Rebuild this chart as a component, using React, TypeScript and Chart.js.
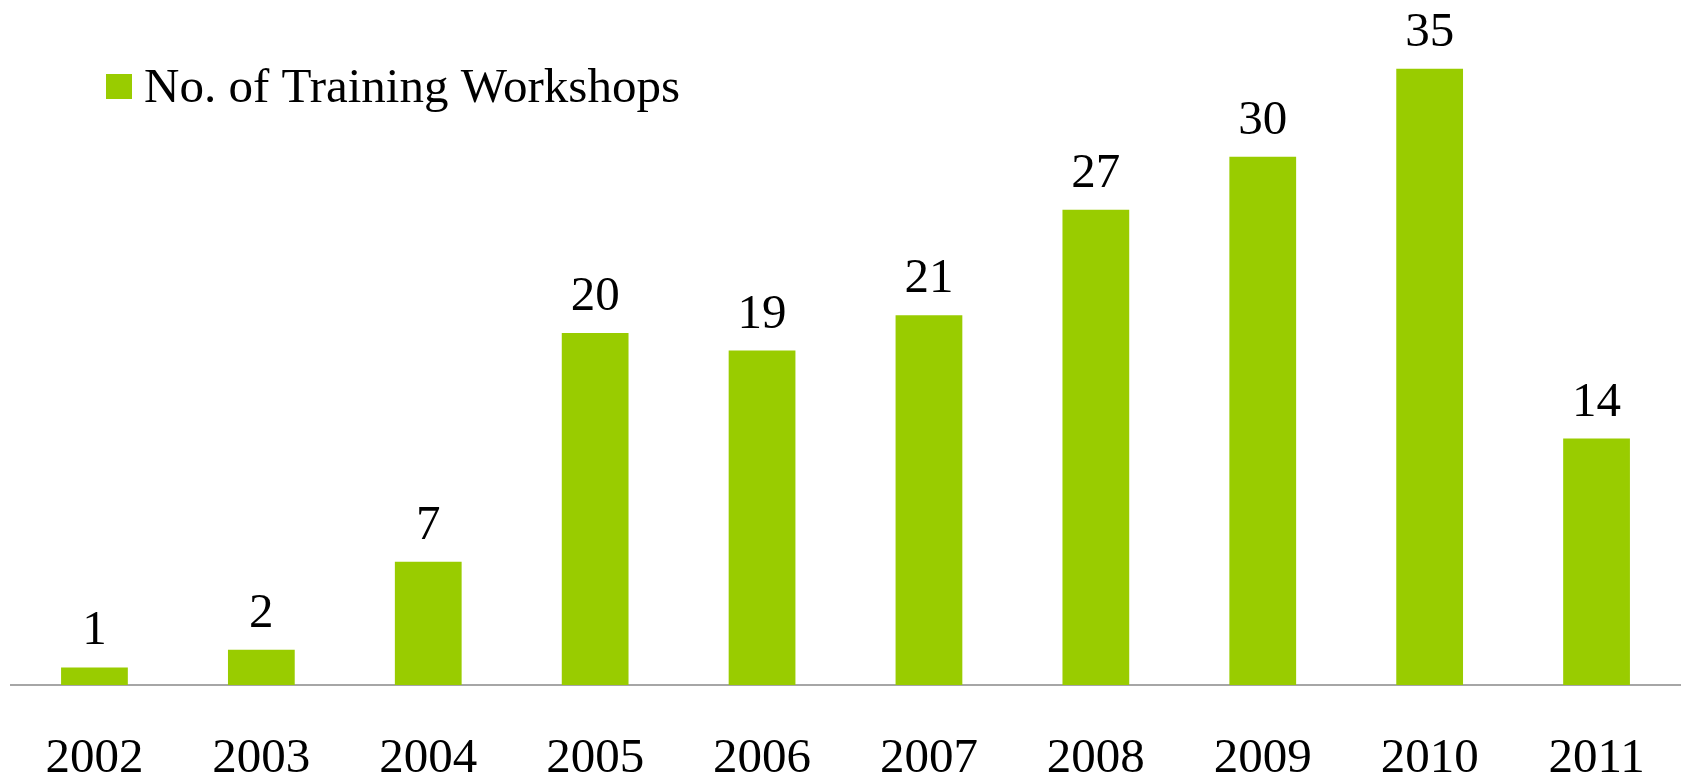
import React, { useEffect, useRef } from "react";
import { Chart, registerables } from "chart.js";

Chart.register(...registerables);

const years = ["2002", "2003", "2004", "2005", "2006", "2007", "2008", "2009", "2010", "2011"];
const workshops = [1, 2, 7, 20, 19, 21, 27, 30, 35, 14];
const seriesLabel = "No. of Training Workshops";
const barColor = "#99CC00";
const fontFamily = "'Liberation Serif', 'Times New Roman', serif";

const valueLabels = {
  id: "valueLabels",
  afterDatasetsDraw(chart: any) {
    const ctx = chart.ctx;
    const meta = chart.getDatasetMeta(0);
    ctx.save();
    ctx.font = `49px ${fontFamily}`;
    ctx.fillStyle = "#000";
    ctx.textAlign = "center";
    ctx.textBaseline = "alphabetic";
    meta.data.forEach((bar: any, i: number) => {
      ctx.fillText(String(chart.data.datasets[0].data[i]), bar.x, bar.y - 23);
    });
    ctx.restore();
  },
};

const customLegend = {
  id: "customLegend",
  afterDraw(chart: any) {
    const ctx = chart.ctx;
    const left = chart.chartArea.left + 95;
    ctx.save();
    ctx.fillStyle = barColor;
    ctx.fillRect(left, 74, 26, 25);
    ctx.font = `49px ${fontFamily}`;
    ctx.fillStyle = "#000";
    ctx.textAlign = "left";
    ctx.textBaseline = "alphabetic";
    ctx.fillText(chart.data.datasets[0].label, left + 38, 102);
    ctx.restore();
  },
};

export default function App() {
  const canvasRef = useRef<HTMLCanvasElement | null>(null);

  useEffect(() => {
    document.body.style.margin = "0";
    document.documentElement.style.overflow = "hidden";
    const canvas = canvasRef.current;
    if (!canvas) return;
    const chart = new Chart(canvas, {
      type: "bar",
      data: {
        labels: years,
        datasets: [
          {
            label: seriesLabel,
            data: workshops,
            backgroundColor: barColor,
            borderWidth: 0,
            categoryPercentage: 1,
            barPercentage: 0.4,
          },
        ],
      },
      options: {
        animation: false,
        responsive: false,
        devicePixelRatio: 1,
        layout: { padding: { left: 11, right: 3, top: 16, bottom: 0 } },
        plugins: {
          legend: { display: false },
          tooltip: { enabled: false },
        },
        scales: {
          x: {
            grid: { display: false, drawTicks: false },
            border: { display: true, color: "#a6a6a6", width: 2 },
            ticks: {
              color: "#000",
              padding: 0,
              maxRotation: 0,
              autoSkip: false,
              font: { family: fontFamily, size: 49, lineHeight: "148px" },
            },
            afterFit: (scale: any) => {
              scale.height = 96;
              scale.paddingLeft = 0;
              scale.paddingRight = 0;
            },
          },
          y: {
            display: false,
            min: 0,
            max: 38,
          },
        },
      },
      plugins: [valueLabels, customLegend],
    });
    return () => chart.destroy();
  }, []);

  return (
    <div style={{ width: "1683px", height: "781px", overflow: "hidden" }}>
      <canvas ref={canvasRef} width={1683} height={781} style={{ display: "block", width: "1683px", height: "781px" }} />
    </div>
  );
}
